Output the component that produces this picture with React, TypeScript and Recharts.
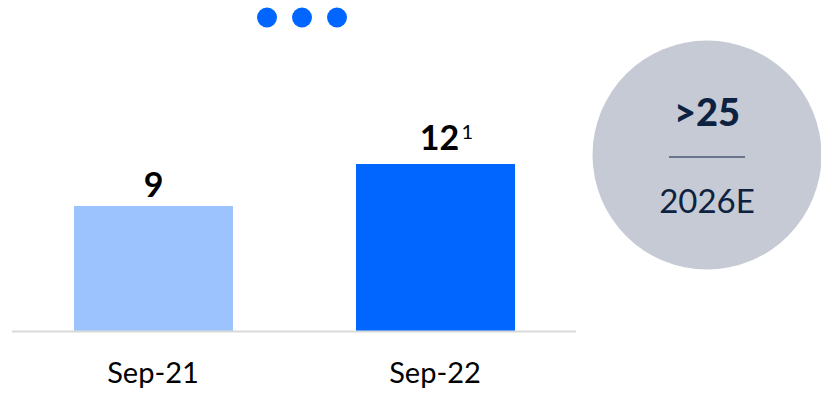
import React from "react";
import { BarChart, Bar, XAxis, YAxis, Cell, LabelList } from "recharts";

const categories = ["Sep-21", "Sep-22"];
const values = [9, 12];
const footnotes = ["", "1"];
const barColors = ["#9DC3FF", "#0066FF"];
const targetValue = ">25";
const targetYear = "2026E";

const data = categories.map((c, i) => ({ cat: c, value: values[i], note: footnotes[i] }));

const FONT = "Lato, 'Open Sans', sans-serif";

const renderLabel = (props: any) => {
  const { x, y, width, value, index } = props;
  const cx = x + width / 2;
  const note = footnotes[index];
  const off = index === 0 ? 9 : 14;
  return (
    <g>
      <text
        x={note ? cx + 4 : cx}
        y={y - off}
        textAnchor="middle"
        fontFamily={FONT}
        fontWeight={700}
        fontSize={34}
        fill="#000"
      >
        {value}
      </text>
      {note ? (
        <text x={cx + 26} y={y - off - 11} textAnchor="start" fontFamily={FONT} fontSize={20} fill="#000">
          {note}
        </text>
      ) : null}
    </g>
  );
};

export default function App() {
  return (
    <div style={{ position: "absolute", left: 0, top: 0, width: 821, height: 393, background: "#fff" }}>
      <svg width={821} height={393} style={{ position: "absolute", left: 0, top: 0 }}>
        <circle cx={267} cy={17.5} r={10} fill="#0066FF" />
        <circle cx={302} cy={17.5} r={10} fill="#0066FF" />
        <circle cx={337} cy={17.5} r={10} fill="#0066FF" />
        <circle cx={707} cy={155} r={114.5} fill="#C6CAD5" />
        <text x={707} y={126} textAnchor="middle" fontFamily={FONT} fontWeight={900} fontSize={38} fill="#0D2240">
          {targetValue}
        </text>
        <line x1={669} x2={745} y1={157} y2={157} stroke="#0D2240" strokeWidth={1.2} />
        <text x={707} y={213} textAnchor="middle" fontFamily={FONT} fontSize={33} fill="#0D2240">
          {targetYear}
        </text>
      </svg>
      <div style={{ position: "absolute", left: 0, top: 0 }}>
        <BarChart width={821} height={393} data={data} margin={{ top: 52.5, right: 245, bottom: 0, left: 12 }}>
          <XAxis
            dataKey="cat"
            axisLine={{ stroke: "#D9D9D9", strokeWidth: 2 }}
            tickLine={false}
            height={61.5}
            tickMargin={25}
            tick={{ fontFamily: FONT, fontSize: 29, fill: "#000" }}
            interval={0}
          />
          <YAxis hide domain={[0, 20]} />
          <Bar dataKey="value" barSize={159} isAnimationActive={false}>
            {data.map((d, i) => (
              <Cell key={d.cat} fill={barColors[i]} />
            ))}
            <LabelList dataKey="value" content={renderLabel} />
          </Bar>
        </BarChart>
      </div>
    </div>
  );
}
